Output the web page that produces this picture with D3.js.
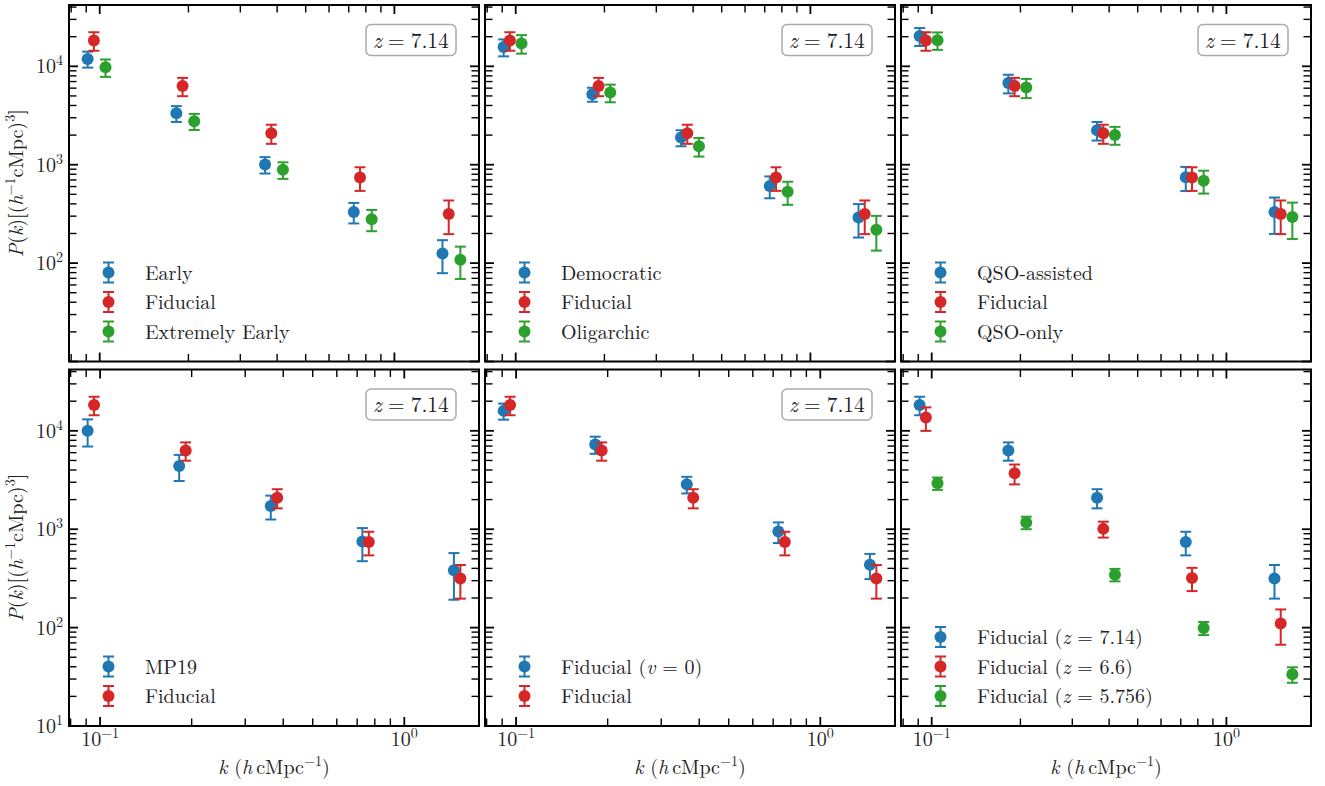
<!DOCTYPE html>
<html><head><meta charset="utf-8">
<script src="https://cdn.jsdelivr.net/npm/d3@7"></script>
<style>
body{margin:0;background:#fff}
svg{display:block}
</style>
</head><body><svg id="c" width="1325" height="786"></svg>
<script>
// ---------------- data ----------------
const kBase = [0.091, 0.182, 0.364, 0.728, 1.456];
const kShift = [1, 1.05, 1.15];            // horizontal dodge factor per series slot

const fiducialP   = [18300, 6300, 2090, 742, 315];
const fiducialErr = [3900, 1330, 460, 200, 118];
const earlyP      = [11900, 3330, 1004, 331, 125];
const earlyErr    = [2200, 610, 190, 78, 46];
const extEarlyP   = [9770, 2770, 888, 279, 108];
const extEarlyErr = [1960, 515, 170, 68, 39];
const democP      = [15700, 5210, 1890, 608, 290];
const democErr    = [3070, 845, 350, 152, 108];
const oligP       = [17100, 5410, 1540, 531, 218];
const oligErr     = [3650, 1100, 330, 140, 84];
const qsoAssP     = [20300, 6760, 2240, 745, 331];
const qsoAssErr   = [4200, 1450, 480, 205, 133];
const qsoOnlyP    = [18400, 6100, 2010, 689, 294];
const qsoOnlyErr  = [3700, 1350, 415, 180, 118];
const mp19P       = [10000, 4390, 1725, 750, 382];
const mp19Err     = [3075, 1300, 470, 277, 190];
const fidV0P      = [15950, 7280, 2860, 948, 436];
const fidV0Err    = [2960, 1440, 550, 225, 125];
const fidZ66P     = [13650, 3700, 1008, 320, 110];
const fidZ66Err   = [3665, 845, 186, 85, 43];
const fidZ5756P   = [2930, 1170, 345, 99, 33.5];
const fidZ5756Err = [420, 170, 50, 15, 6];

const yTickMajor = [10, 100, 1000, 10000];
const xTickMajor = [0.1, 1];
const yDomain = [10, 42000];
const zLabel = "7.14";

const panels = [
  {row:0, col:0, zbox:true, series:[["Early", earlyP, earlyErr], ["Fiducial", fiducialP, fiducialErr], ["Extremely Early", extEarlyP, extEarlyErr]]},
  {row:0, col:1, zbox:true, series:[["Democratic", democP, democErr], ["Fiducial", fiducialP, fiducialErr], ["Oligarchic", oligP, oligErr]]},
  {row:0, col:2, zbox:true, series:[["QSO-assisted", qsoAssP, qsoAssErr], ["Fiducial", fiducialP, fiducialErr], ["QSO-only", qsoOnlyP, qsoOnlyErr]]},
  {row:1, col:0, zbox:true, series:[["MP19", mp19P, mp19Err], ["Fiducial", fiducialP, fiducialErr]]},
  {row:1, col:1, zbox:true, series:[["Fiducial ($v$ = 0)", fidV0P, fidV0Err], ["Fiducial", fiducialP, fiducialErr]]},
  {row:1, col:2, zbox:false, series:[["Fiducial ($z$ = 7.14)", fiducialP, fiducialErr], ["Fiducial ($z$ = 6.6)", fidZ66P, fidZ66Err], ["Fiducial ($z$ = 5.756)", fidZ5756P, fidZ5756Err]]}
];

const colors = ["#1f77b4", "#d62728", "#2ca02c"];
const FONT = "Latin Modern Roman";

// ---------------- layout ----------------
const colLeft = [69, 485, 901], panelW = 410;
const rowTop = [5, 369.5], panelH = 356.5;
const svg = d3.select("#c");
svg.append("rect").attr("width",1325).attr("height",786).attr("fill","#fff");

function txt(parent){ return parent.append("text").attr("font-family", FONT).attr("fill","#222"); }
function addRich(sel, str){
  str.split("$").forEach((s,i)=>{
    if(!s) return;
    sel.append("tspan").attr("font-style", i%2 ? "italic" : null).text(s);
  });
  return sel;
}
function addPow(sel, base, exp, supSize){
  sel.append("tspan").text(base);
  sel.append("tspan").attr("font-size", supSize).attr("dy", -8).text(exp);
  return sel;
}

panels.forEach(p=>{
  const x0 = colLeft[p.col], y0 = rowTop[p.row];
  const g = svg.append("g").attr("transform", `translate(${x0},${y0})`);
  const nS = p.series.length;
  const ks = [];
  p.series.forEach((s,si)=>kBase.forEach(k=>ks.push(k*kShift[si])));
  const lo = Math.log10(d3.min(ks)), hi = Math.log10(d3.max(ks)), pad = 0.05*(hi-lo);
  const x = d3.scaleLog().domain([Math.pow(10,lo-pad), Math.pow(10,hi+pad)]).range([0, panelW]);
  const y = d3.scaleLog().domain(yDomain).range([panelH, 0]);

  const [xa, xb] = x.domain();
  const xMinor = [];
  [0.01,0.1,1].forEach(d=>{for(let m=2;m<=9;m++){const v=m*d; if(v>=xa && v<=xb) xMinor.push(v);}});
  const yMinor = [];
  [10,100,1000,10000].forEach(d=>{for(let m=2;m<=9;m++){const v=m*d; if(v>=yDomain[0] && v<=yDomain[1]) yMinor.push(v);}});
  const tg = g.append("g").attr("stroke","#000");
  function xt(vals, L, sw){
    vals.forEach(v=>{
      const px = x(v);
      tg.append("line").attr("x1",px).attr("x2",px).attr("y1",panelH).attr("y2",panelH-L).attr("stroke-width",sw);
      tg.append("line").attr("x1",px).attr("x2",px).attr("y1",0).attr("y2",L).attr("stroke-width",sw);
    });
  }
  function yt(vals, L, sw){
    vals.forEach(v=>{
      const py = y(v);
      tg.append("line").attr("y1",py).attr("y2",py).attr("x1",0).attr("x2",L).attr("stroke-width",sw);
      tg.append("line").attr("y1",py).attr("y2",py).attr("x1",panelW).attr("x2",panelW-L).attr("stroke-width",sw);
    });
  }
  xt(xMinor, 7.5, 1.4); xt(xTickMajor, 9, 1.8);
  yt(yMinor, 7.5, 1.4); yt(yTickMajor, 9, 1.8);

  p.series.forEach((s,si)=>{
    const [label, vals, errs] = s;
    const c = colors[si];
    const sg = g.append("g");
    vals.forEach((v,i)=>{
      const px = x(kBase[i]*kShift[si]);
      const yt_ = y(v+errs[i]), yb = y(Math.max(v-errs[i], 1e-3));
      sg.append("line").attr("x1",px).attr("x2",px).attr("y1",yt_).attr("y2",yb).attr("stroke",c).attr("stroke-width",2);
      [yt_, yb].forEach(yy=>sg.append("line").attr("x1",px-5.5).attr("x2",px+5.5).attr("y1",yy).attr("y2",yy).attr("stroke",c).attr("stroke-width",2));
      sg.append("circle").attr("cx",px).attr("cy",y(v)).attr("r",6).attr("fill",c);
    });
  });

  const spacing = 29.5;
  p.series.forEach((s,si)=>{
    const ry = panelH - 30 - (nS-1-si)*spacing;
    const c = colors[si];
    const lx = 39.5;
    g.append("line").attr("x1",lx).attr("x2",lx).attr("y1",ry-10).attr("y2",ry+10).attr("stroke",c).attr("stroke-width",2);
    [ry-10, ry+10].forEach(yy=>g.append("line").attr("x1",lx-5.5).attr("x2",lx+5.5).attr("y1",yy).attr("y2",yy).attr("stroke",c).attr("stroke-width",2));
    g.append("circle").attr("cx",lx).attr("cy",ry).attr("r",6).attr("fill",c);
    addRich(txt(g).attr("x",76).attr("y",ry+7).attr("font-size",20), s[0]);
  });

  if(p.zbox){
    const bw = 90, bh = 31, bx = panelW-23-bw, by = 19.5;
    g.append("rect").attr("x",bx).attr("y",by).attr("width",bw).attr("height",bh).attr("rx",5)
      .attr("fill","#fff").attr("stroke","#aaaaaa").attr("stroke-width",1.5);
    const t = txt(g).attr("x",bx+bw/2).attr("y",by+23).attr("text-anchor","middle").attr("font-size",21.5);
    t.append("tspan").attr("font-style","italic").text("z");
    t.append("tspan").attr("dx",6).text("=");
    t.append("tspan").attr("dx",6).text(zLabel);
  }

  g.append("rect").attr("width",panelW).attr("height",panelH).attr("fill","none").attr("stroke","#000").attr("stroke-width",2);

  if(p.col===0){
    yTickMajor.forEach(v=>{
      if(p.row===0 && v===10) return;
      const e = Math.round(Math.log10(v));
      addPow(txt(g).attr("x",-6).attr("y",y(v)+7).attr("text-anchor","end").attr("font-size",20), "10", String(e), 14);
    });
  }
  if(p.row===1){
    xTickMajor.forEach(v=>{
      const e = Math.round(Math.log10(v));
      addPow(txt(g).attr("x",x(v)).attr("y",panelH+20).attr("text-anchor","middle").attr("font-size",20), "10", e<0 ? "\u2212"+(-e) : String(e), 14);
    });
    const t = txt(g).attr("x",panelW/2).attr("y",panelH+48).attr("text-anchor","middle").attr("font-size",20);
    t.append("tspan").attr("font-style","italic").text("k");
    t.append("tspan").text(" (");
    t.append("tspan").attr("font-style","italic").text("h");
    t.append("tspan").text("\u2009cMpc");
    t.append("tspan").attr("font-size",14).attr("dy",-8).text("\u22121");
    t.append("tspan").attr("dy",8).text(")");
  }
  if(p.col===0){
    const t = txt(g).attr("transform",`translate(-46,${panelH/2}) rotate(-90)`).attr("text-anchor","middle").attr("font-size",20);
    t.append("tspan").attr("font-style","italic").text("P");
    t.append("tspan").text("(");
    t.append("tspan").attr("font-style","italic").text("k");
    t.append("tspan").text(")[(");
    t.append("tspan").attr("font-style","italic").text("h");
    t.append("tspan").attr("font-size",14).attr("dy",-8).text("\u22121");
    t.append("tspan").attr("dy",8).text("cMpc)");
    t.append("tspan").attr("font-size",14).attr("dy",-8).text("3");
    t.append("tspan").attr("dy",8).text("]");
  }
});
</script></body></html>
